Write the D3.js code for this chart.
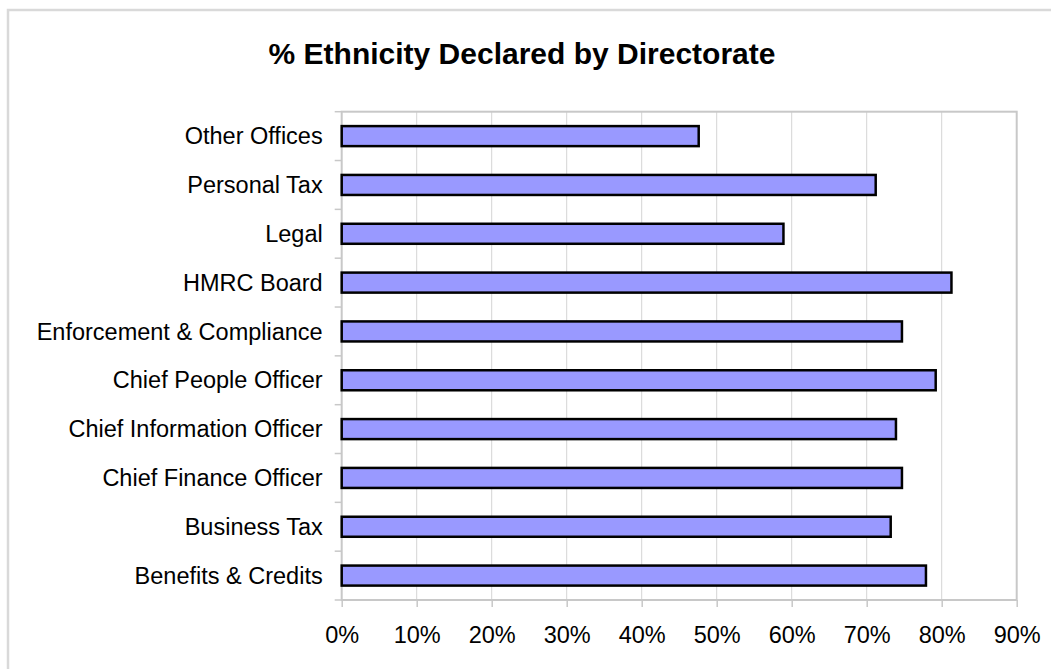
<!DOCTYPE html>
<html>
<head>
<meta charset="utf-8">
<script src="https://cdn.jsdelivr.net/npm/d3@7"></script>
<style>
  html, body { margin: 0; padding: 0; background: #fff; }
  svg { display: block; font-family: "Liberation Sans", Arial, sans-serif; }
</style>
</head>
<body>
<svg id="chart" width="1051" height="669"></svg>
<script>
// Directorates, listed top to bottom as drawn
const directorates = [
  "Other Offices",
  "Personal Tax",
  "Legal",
  "HMRC Board",
  "Enforcement & Compliance",
  "Chief People Officer",
  "Chief Information Officer",
  "Chief Finance Officer",
  "Business Tax",
  "Benefits & Credits"
];
// Share of staff who declared their ethnicity (%)
const declaredPct = [47.6, 71.2, 58.9, 81.3, 74.7, 79.2, 73.9, 74.7, 73.2, 77.9];
// Horizontal axis ticks (%)
const xTicks = [0, 10, 20, 30, 40, 50, 60, 70, 80, 90];
const chartTitle = "% Ethnicity Declared by Directorate";

const svg = d3.select("#chart");
const plot = { left: 341.7, top: 111.7, right: 1016.7, bottom: 600 };

// chart area frame
svg.append("rect")
  .attr("x", 8).attr("y", 10)
  .attr("width", 1060).attr("height", 700)
  .attr("fill", "#fff")
  .attr("stroke", "#d9d9d9").attr("stroke-width", 2.5);

// title
svg.append("text")
  .attr("x", 522).attr("y", 64)
  .attr("text-anchor", "middle")
  .attr("font-size", 30).attr("font-weight", "bold")
  .attr("fill", "#000")
  .text(chartTitle);

const x = d3.scaleLinear().domain([0, 90]).range([plot.left, plot.right]);
const y = d3.scaleBand().domain(directorates)
  .range([plot.top, plot.bottom])
  .paddingInner(0.59).paddingOuter(0.295);

// vertical gridlines
svg.append("g")
  .selectAll("line")
  .data(xTicks.filter(t => t > 0 && t < 90))
  .join("line")
  .attr("x1", d => x(d)).attr("x2", d => x(d))
  .attr("y1", plot.top).attr("y2", plot.bottom)
  .attr("stroke", "#d4d4d4").attr("stroke-width", 1);

// plot area border
svg.append("rect")
  .attr("x", plot.left).attr("y", plot.top)
  .attr("width", plot.right - plot.left).attr("height", plot.bottom - plot.top)
  .attr("fill", "none")
  .attr("stroke", "#c8c8c8").attr("stroke-width", 2);

// bars
svg.append("g")
  .selectAll("rect")
  .data(directorates.map((d, i) => ({ name: d, value: declaredPct[i] })))
  .join("rect")
  .attr("x", x(0))
  .attr("y", d => y(d.name))
  .attr("width", d => x(d.value) - x(0))
  .attr("height", y.bandwidth())
  .attr("fill", "#9999ff")
  .attr("stroke", "#000").attr("stroke-width", 2.5);

// category axis (left): ticks sit on category boundaries
const yAxisG = svg.append("g").attr("transform", `translate(${plot.left},0)`);
const boundaries = d3.range(directorates.length + 1).map(i => plot.top + i * y.step());
yAxisG.selectAll("line.tk").data(boundaries).join("line")
  .attr("class", "tk")
  .attr("x1", -7).attr("x2", 0)
  .attr("y1", d => d).attr("y2", d => d)
  .attr("stroke", "#c8c8c8").attr("stroke-width", 1.5);
yAxisG.selectAll("text").data(directorates).join("text")
  .attr("x", -19)
  .attr("y", d => y(d) + y.bandwidth() / 2)
  .attr("dy", "0.35em")
  .attr("text-anchor", "end")
  .attr("font-size", 23.5)
  .attr("fill", "#000")
  .text(d => d);

// value axis (bottom)
const xAxis = d3.axisBottom(x)
  .tickValues(xTicks)
  .tickFormat(d => d + "%")
  .tickSize(7)
  .tickPadding(19);
const xAxisG = svg.append("g")
  .attr("transform", `translate(0,${plot.bottom})`)
  .call(xAxis);
xAxisG.select(".domain").remove();
xAxisG.selectAll(".tick line").attr("stroke", "#c8c8c8").attr("stroke-width", 1.5);
xAxisG.selectAll(".tick text")
  .attr("font-size", 23.5)
  .attr("font-family", "Liberation Sans, Arial, sans-serif")
  .attr("fill", "#000");
</script>
</body>
</html>
